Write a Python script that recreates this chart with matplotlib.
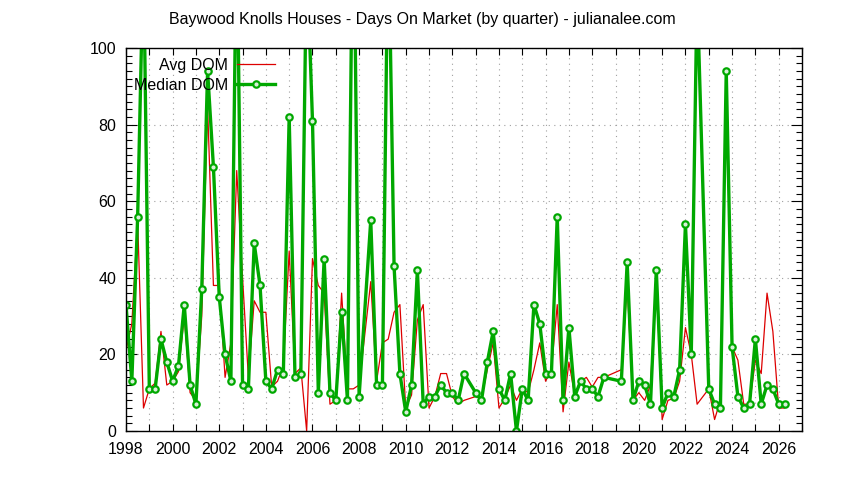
import matplotlib
matplotlib.use("Agg")
import matplotlib.pyplot as plt
from matplotlib.ticker import MultipleLocator

# quarter labels (some quarters have no sales and are missing)
quarters = [
    "1998Q1", "1998Q2", "1998Q3", "1998Q4", "1999Q1", "1999Q2", "1999Q3", "1999Q4",
    "2000Q1", "2000Q2", "2000Q3", "2000Q4", "2001Q1", "2001Q2", "2001Q3", "2001Q4",
    "2002Q1", "2002Q2", "2002Q3", "2002Q4", "2003Q1", "2003Q2", "2003Q3", "2003Q4",
    "2004Q1", "2004Q2", "2004Q3", "2004Q4", "2005Q1", "2005Q2", "2005Q3", "2005Q4",
    "2006Q1", "2006Q2", "2006Q3", "2006Q4", "2007Q1", "2007Q2", "2007Q3", "2007Q4",
    "2008Q1", "2008Q3", "2008Q4", "2009Q1", "2009Q2", "2009Q3", "2009Q4",
    "2010Q1", "2010Q2", "2010Q3", "2010Q4", "2011Q1", "2011Q2", "2011Q3", "2011Q4",
    "2012Q1", "2012Q2", "2012Q3", "2013Q1", "2013Q2", "2013Q3", "2013Q4",
    "2014Q1", "2014Q2", "2014Q3", "2014Q4", "2015Q1", "2015Q2", "2015Q3", "2015Q4",
    "2016Q1", "2016Q2", "2016Q3", "2016Q4", "2017Q1", "2017Q2", "2017Q3", "2017Q4",
    "2018Q1", "2018Q2", "2018Q3", "2019Q2", "2019Q3", "2019Q4",
    "2020Q1", "2020Q2", "2020Q3", "2020Q4", "2021Q1", "2021Q2", "2021Q3", "2021Q4",
    "2022Q1", "2022Q2", "2022Q3", "2023Q1", "2023Q2", "2023Q3", "2023Q4",
    "2024Q1", "2024Q2", "2024Q3", "2024Q4", "2025Q1", "2025Q2", "2025Q3", "2025Q4",
    "2026Q1", "2026Q2",
]

avg_dom = [
    21, 28, 55, 6, 11, 12.5, 26, 12,
    13, 15.5, 30, 10, 8, 30, 85, 38,
    38, 14, 23, 68, 40, 14, 34, 31,
    31, 11.5, 13, 17, 47, 15, 16.5, 0,
    45, 38, 36, 7, 8, 36, 11, 11,
    12, 39, 13, 23, 24, 31, 33,
    6, 9.4, 29, 33, 6, 9, 15, 15,
    9, 7, 8, 9, 8.5, 16, 23,
    6, 8.5, 12, 8, 11, 10, 16, 23,
    13, 16, 33, 5, 18, 9.4, 13, 14,
    11.5, 14, 14, 16, 38, 8,
    10, 8, 12, 40, 3, 8, 8.5, 13,
    27, 20, 7, 11, 3, 8, 90,
    22, 18.5, 7, 7, 18.5, 15, 36, 26,
    6, 6,
]

median_dom = [
    33, 13, 56, 125, 11, 11, 24, 18,
    13, 17, 33, 12, 7, 37, 94, 69,
    35, 20, 13, 135, 12, 11, 49, 38,
    13, 11, 16, 15, 82, 14, 15, 125,
    81, 10, 45, 10, 8, 31, 8, 150,
    9, 55, 12, 12, 135, 43, 15,
    5, 12, 42, 7, 9, 9, 12, 10,
    10, 8, 15, 10, 8, 18, 26,
    11, 8, 15, 0, 11, 8, 33, 28,
    15, 15, 56, 8, 27, 9, 13, 11,
    11, 9, 14, 13, 44, 8,
    13, 12, 7, 42, 6, 10, 9, 16,
    54, 20, 115, 11, 7, 6, 94,
    22, 9, 6, 7, 24, 7, 12, 11,
    7, 7,
]

x = [int(q[:4]) + (int(q[5]) - 1) / 4 for q in quarters]

plt.rcParams['font.family'] = ['Liberation Sans', 'DejaVu Sans']
plt.rcParams['font.size'] = 11.5

fig = plt.figure(figsize=(8.44, 4.8), dpi=100)
ax = fig.add_axes([126 / 844, 49 / 480, 676 / 844, 383 / 480])

ax.plot(x, avg_dom, color='#dd0000', lw=0.9, label='Avg DOM')
ax.plot(x, median_dom, color='#00a800', lw=2.4, marker='o', ms=4.6,
        mfc='#d8f0d8', mec='#00a800', mew=1.6, label='Median DOM')

ax.set_xlim(1998, 2027)
ax.set_ylim(0, 100)
ax.xaxis.set_major_locator(MultipleLocator(2))
ax.xaxis.set_minor_locator(MultipleLocator(1))
ax.yaxis.set_major_locator(MultipleLocator(20))
ax.yaxis.set_minor_locator(MultipleLocator(2))
ax.tick_params(which='both', direction='in', top=True, right=True, width=0.8)
ax.tick_params(axis='x', which='both', length=5, pad=8)
ax.tick_params(axis='y', which='major', length=8, pad=7)
ax.tick_params(axis='y', which='minor', length=4)
for s in ax.spines.values():
    s.set_linewidth(1.0)

ax.grid(True, which='major', color='#a0a0a0', lw=0.8, ls=(0, (1, 4)))
ax.grid(True, which='minor', axis='x', color='#a0a0a0', lw=0.8, ls=(0, (1, 4)))

fig.suptitle('Baywood Knolls Houses - Days On Market (by quarter) - julianalee.com',
             x=0.5, y=0.975, fontsize=11.5)

ax.legend(loc='upper left', bbox_to_anchor=(0.0, 0.995), frameon=False,
          markerfirst=False, handlelength=2.4, handletextpad=0.55,
          labelspacing=0.3, borderpad=0.2, borderaxespad=0.3)

fig.savefig('out.png', dpi=100)
